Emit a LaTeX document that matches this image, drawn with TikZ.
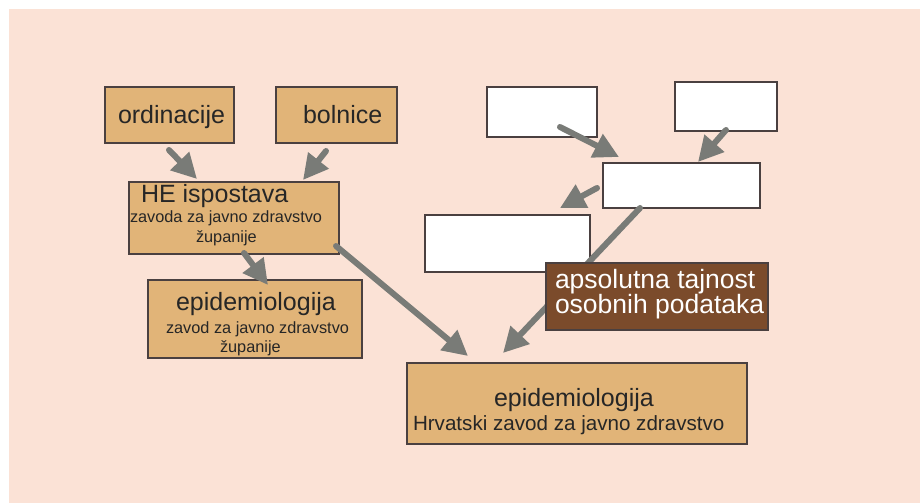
\documentclass[tikz,border=0pt]{standalone}
\usepackage{fontspec}
\setmainfont{Liberation Sans}
\usetikzlibrary{arrows.meta}
\definecolor{bgpink}{HTML}{FBE2D6}
\definecolor{tanfill}{HTML}{E1B478}
\definecolor{brownfill}{HTML}{7B4B2B}
\definecolor{arrowgray}{HTML}{797B77}
\definecolor{boxline}{HTML}{4A4040}
\begin{document}
\begin{tikzpicture}[x=1pt,y=-1pt,
  tanbox/.style={draw=boxline,line width=1.1pt,fill=tanfill,inner sep=0pt,outer sep=0pt},
  whitebox/.style={draw=boxline,line width=1.1pt,fill=white,inner sep=0pt,outer sep=0pt},
  brownbox/.style={draw=boxline,line width=1.1pt,fill=brownfill,inner sep=0pt,outer sep=0pt},
  txt/.style={anchor=base west,inner sep=0pt,outer sep=0pt,text=black!85},
  bigtxt/.style={txt,font=\fontsize{25}{30}\selectfont},
  smalltxt/.style={txt,font=\fontsize{16.3}{20}\selectfont},
  midtxt/.style={txt,font=\fontsize{20.6}{24}\selectfont},
  browntxt/.style={txt,text=white,font=\fontsize{26.5}{30}\selectfont},
  flow/.style={draw=arrowgray,line width=6pt,line cap=round,-{Triangle[length=25pt,width=25pt]}}
]
\useasboundingbox (0,0) rectangle (920,503);
\fill[bgpink] (9,9) rectangle (920,503);

% boxes
\node[tanbox,minimum width=129pt,minimum height=56pt] (ord) at (169.5,115) {};
\node[tanbox,minimum width=121pt,minimum height=56pt] (bol) at (336.5,115) {};
\node[tanbox,minimum width=210pt,minimum height=72pt] (he) at (234,218) {};
\node[tanbox,minimum width=214pt,minimum height=78pt] (cty) at (255,319) {};
\node[tanbox,minimum width=340pt,minimum height=81pt] (big) at (577,403.5) {};
\node[whitebox,minimum width=110pt,minimum height=50pt] (w1) at (542,112) {};
\node[whitebox,minimum width=102pt,minimum height=49pt] (w2) at (726,106.5) {};
\node[whitebox,minimum width=157pt,minimum height=45pt] (mid) at (681.5,185.5) {};
\node[whitebox,minimum width=165pt,minimum height=57pt] (w4) at (507.5,243.5) {};

% texts
\node[bigtxt] (tord) at (118,123) {ordinacije};
\node[bigtxt] (tbol) at (303,123) {bolnice};
\node[bigtxt] (the1) at (141,202) {HE ispostava};
\node[smalltxt] (the2) at (130,222) {zavoda za javno zdravstvo};
\node[smalltxt] (the3) at (196,242) {županije};
\node[bigtxt] (tcty1) at (176,310) {epidemiologija};
\node[smalltxt] (tcty2) at (166,333) {zavod za javno zdravstvo};
\node[smalltxt] (tcty3) at (220,352) {županije};
\node[bigtxt] (tbig1) at (494,406) {epidemiologija};
\node[midtxt] (tbig2) at (413,430) {Hrvatski zavod za javno zdravstvo};

% arrow end points
\coordinate (a1s) at (169,150); \coordinate (a1e) at (197,179);
\coordinate (a2s) at (326,151); \coordinate (a2e) at (303,180);
\coordinate (a3s) at (244,253); \coordinate (a3e) at (268,285);
\coordinate (a4s) at (336,246); \coordinate (a4e) at (468,356);
\coordinate (a5s) at (560,127); \coordinate (a5e) at (619,157);
\coordinate (a6s) at (726,130); \coordinate (a6e) at (698,162);
\coordinate (a7s) at (597,188); \coordinate (a7e) at (560,208);
\coordinate (a8s) at (640,208); \coordinate (a8e) at (503,353);

\draw[flow] (a1s) -- (a1e);
\draw[flow] (a2s) -- (a2e);
\draw[flow] (a3s) -- (a3e);
\draw[flow] (a4s) -- (a4e);
\draw[flow] (a5s) -- (a5e);
\draw[flow] (a6s) -- (a6e);
\draw[flow] (a7s) -- (a7e);
\draw[flow] (a8s) -- (a8e);

% brown box on top
\node[brownbox,minimum width=222pt,minimum height=67pt] (brown) at (657,296.5) {};
\node[browntxt] (tbr1) at (555,288) {apsolutna tajnost};
\node[browntxt] (tbr2) at (555,313) {osobnih podataka};
\end{tikzpicture}
\end{document}
